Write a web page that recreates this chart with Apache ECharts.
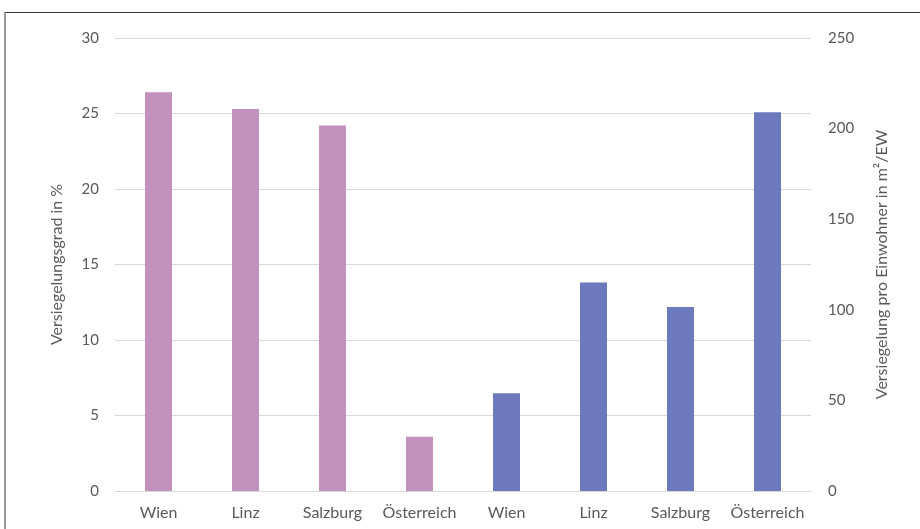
<!DOCTYPE html>
<html>
<head>
<meta charset="utf-8">
<script src="https://cdn.jsdelivr.net/npm/echarts@6/dist/echarts.min.js"></script>
<style>
  html, body { margin: 0; padding: 0; background: #fff; }
  #chart { width: 920px; height: 529px; }
</style>
</head>
<body>
<div id="chart"></div>
<script>
// Categories along the x axis
const categories = ['Wien', 'Linz', 'Salzburg', 'Österreich', 'Wien', 'Linz', 'Salzburg', 'Österreich'];
// Degree of soil sealing in % (left axis)
const sealingPercent = [26.4, 25.3, 24.2, 3.6, '-', '-', '-', '-'];
// Sealed area per inhabitant in m²/EW (right axis)
const sealingPerCapita = ['-', '-', '-', '-', 54, 115, 101.5, 209];
// Axis tick settings
const leftAxis = { min: 0, max: 30, interval: 5 };
const rightAxis = { min: 0, max: 250, interval: 50 };

const textColor = '#595959';
const font = 'Lato, "Open Sans", sans-serif';

const chart = echarts.init(document.getElementById('chart'), null, { renderer: 'canvas' });
chart.setOption({
  animation: false,
  backgroundColor: '#fff',
  textStyle: { fontFamily: font },
  grid: { left: 115, right: 109, top: 38, bottom: 38 },
  graphic: [
    { type: 'line', shape: { x1: 5, y1: 12.5, x2: 920, y2: 12.5 }, style: { stroke: '#333', lineWidth: 1 } },
    { type: 'line', shape: { x1: 5, y1: 12, x2: 5, y2: 529 }, style: { stroke: '#777', lineWidth: 1.5 } }
  ],
  xAxis: {
    type: 'category',
    data: categories,
    axisLine: { show: true, lineStyle: { color: '#d9d9d9' } },
    axisTick: { show: false },
    axisLabel: { color: textColor, fontSize: 16, fontFamily: font, margin: 14, interval: 0 }
  },
  yAxis: [
    {
      type: 'value',
      min: leftAxis.min, max: leftAxis.max, interval: leftAxis.interval,
      name: 'Versiegelungsgrad in %',
      nameLocation: 'middle',
      nameGap: 50,
      nameTextStyle: { color: textColor, fontSize: 16, fontFamily: font },
      axisLine: { show: false },
      axisTick: { show: false },
      axisLabel: { color: textColor, fontSize: 15, fontFamily: font, margin: 16 },
      splitLine: { lineStyle: { color: '#d9d9d9' } }
    },
    {
      type: 'value',
      min: rightAxis.min, max: rightAxis.max, interval: rightAxis.interval,
      name: 'Versiegelung pro Einwohner in m²/EW',
      nameLocation: 'middle',
      nameGap: 63,
      nameRotate: 90,
      nameTextStyle: { color: textColor, fontSize: 16, fontFamily: font },
      axisLine: { show: false },
      axisTick: { show: false },
      axisLabel: { color: textColor, fontSize: 15, fontFamily: font, margin: 17 },
      splitLine: { show: false }
    }
  ],
  series: [
    {
      type: 'bar',
      yAxisIndex: 0,
      data: sealingPercent,
      barWidth: 27,
      barGap: '-100%',
      itemStyle: { color: '#C391BE' }
    },
    {
      type: 'bar',
      yAxisIndex: 1,
      data: sealingPerCapita,
      barWidth: 27,
      barGap: '-100%',
      itemStyle: { color: '#6C7ABD' }
    }
  ]
});
</script>
</body>
</html>
